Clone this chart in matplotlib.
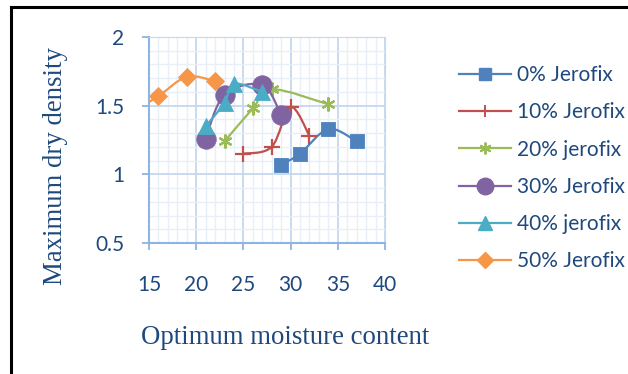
import numpy as np
import matplotlib.pyplot as plt
from matplotlib.path import Path
from matplotlib.patches import PathPatch
from matplotlib.lines import Line2D
from matplotlib.ticker import MultipleLocator

# moisture content (x) and max dry density (y) per mix
x_0 = [29, 31, 34, 37]
y_0 = [1.07, 1.15, 1.33, 1.24]
x_10 = [25, 28, 30, 32]
y_10 = [1.15, 1.20, 1.49, 1.28]
x_20 = [23, 26, 28, 34]
y_20 = [1.24, 1.48, 1.62, 1.51]
x_30 = [21, 23, 27, 29]
y_30 = [1.26, 1.58, 1.65, 1.43]
x_40 = [21, 23, 24, 27]
y_40 = [1.35, 1.52, 1.66, 1.60]
x_50 = [13, 16, 19, 22]
y_50 = [1.44, 1.57, 1.71, 1.68]

labels = ["0% Jerofix", "10% Jerofix", "20% jerofix",
          "30% Jerofix", "40% jerofix", "50% Jerofix"]
colors = ["#4F81BD", "#C0504D", "#9BBB59", "#8064A2", "#4BACC6", "#F79646"]
markers = ["s", "+", (6, 2, 0), "o", "^", "D"]
msizes = [10.5, 11, 10, 14, 11.5, 9.5]

text_col = "#1F497D"
tick_font = "Lato"
label_font = "Liberation Serif"


def smooth_path(xs, ys):
    # catmull-rom style bezier, like excel smoothed lines
    pts = np.column_stack([xs, ys]).astype(float)
    verts = [pts[0]]
    codes = [Path.MOVETO]
    n = len(pts)
    for i in range(n - 1):
        p0 = pts[i - 1] if i > 0 else pts[i]
        p1 = pts[i]
        p2 = pts[i + 1]
        p3 = pts[i + 2] if i + 2 < n else pts[i + 1]
        verts += [p1 + (p2 - p0) / 6, p2 - (p3 - p1) / 6, p2]
        codes += [Path.CURVE4] * 3
    return Path(verts, codes)


fig = plt.figure(figsize=(6.28, 3.74), dpi=100)
ax = fig.add_axes([149 / 628, 1 - 243 / 374, 236 / 628, 206 / 374])

series = [(x_0, y_0), (x_10, y_10), (x_20, y_20),
          (x_30, y_30), (x_40, y_40), (x_50, y_50)]
handles = []
for i, (xs, ys) in enumerate(series):
    c = colors[i]
    patch = PathPatch(smooth_path(xs, ys), facecolor="none", edgecolor=c,
                      lw=1.6, zorder=3 + i * 2)
    ax.add_patch(patch)
    if markers[i] in ("+", (6, 2, 0)):
        ax.plot(xs, ys, linestyle="none", marker=markers[i], color=c,
                markersize=msizes[i], mew=1.6, zorder=4 + i * 2)
        h = Line2D([], [], color=c, lw=1.6, marker=markers[i],
                   markersize=msizes[i] * 0.85, mew=1.4)
    else:
        ax.plot(xs, ys, linestyle="none", marker=markers[i], color=c,
                markersize=msizes[i], mec=c, mew=0.6, zorder=4 + i * 2)
        h = Line2D([], [], color=c, lw=1.6, marker=markers[i],
                   markersize=msizes[i] * 0.85, mec=c)
    handles.append(h)

ax.set_xlim(15, 40)
ax.set_ylim(0.5, 2)
ax.xaxis.set_major_locator(MultipleLocator(5))
ax.xaxis.set_minor_locator(MultipleLocator(1))
ax.yaxis.set_major_locator(MultipleLocator(0.5))
ax.yaxis.set_minor_locator(MultipleLocator(0.1))
ax.set_yticks([0.5, 1, 1.5, 2])
ax.set_yticklabels(["0.5", "1", "1.5", "2"])

ax.grid(which="major", color="#C5D8EE", lw=1.3, zorder=1)
ax.grid(which="minor", color="#E8EFF8", lw=1.0, zorder=0)
ax.set_axisbelow(True)
for s in ax.spines.values():
    s.set_color("#C5D8EE")
for s in ["left", "bottom"]:
    ax.spines[s].set_color("#8EB4E3")
    ax.spines[s].set_linewidth(1.5)

ax.tick_params(which="major", direction="out", length=5, width=1.3,
               color="#8EB4E3", labelcolor=text_col, labelsize=15)
ax.tick_params(axis="x", pad=18)
ax.tick_params(axis="y", pad=13)
ax.tick_params(which="minor", length=0)
for t in ax.get_xticklabels() + ax.get_yticklabels():
    t.set_fontfamily(tick_font)

fig.text(285 / 628, 1 - 337 / 374, "Optimum moisture content",
         ha="center", va="center", fontsize=19.3, color=text_col,
         family=label_font)
fig.text(56 / 628, 1 - 166 / 374, "Maximum dry density", rotation=90,
         ha="center", va="center", fontsize=19.3, color=text_col,
         family=label_font)

leg = fig.legend(handles, labels, loc="upper left",
                 bbox_to_anchor=(459 / 628, 1 - 65 / 374),
                 frameon=False, handlelength=2.5, handletextpad=0.3,
                 labelspacing=0.83, borderaxespad=0, borderpad=0,
                 prop={"family": tick_font, "size": 15})
for t in leg.get_texts():
    t.set_color(text_col)

# frame of the figure crop
fig.add_artist(Line2D([11 / 628, 11 / 628], [0, 1 - 7 / 374],
                      color="black", lw=2.2, transform=fig.transFigure))
fig.add_artist(Line2D([11 / 628, 1], [1 - 7 / 374, 1 - 7 / 374],
                      color="black", lw=2.2, transform=fig.transFigure))

fig.savefig("out.png", dpi=100)
